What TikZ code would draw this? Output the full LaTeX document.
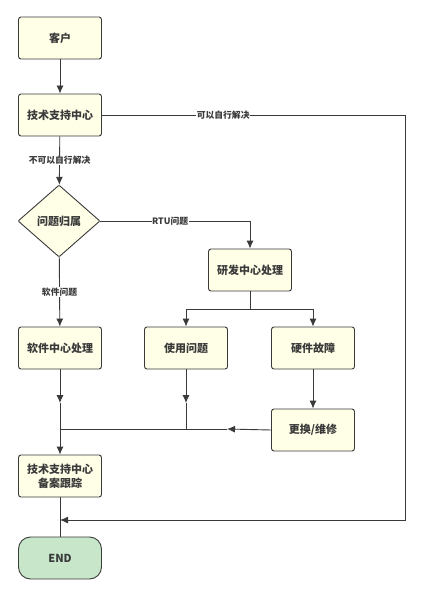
\documentclass[tikz,border=0pt]{standalone}
\usepackage{fontspec}
\usepackage{tikz}
\usetikzlibrary{shapes.geometric,arrows.meta}
\newfontfamily\cjk{Noto Sans CJK SC}
\definecolor{linec}{HTML}{3A3A3A}
\definecolor{boxfill}{HTML}{FFFFE8}
\definecolor{endfill}{HTML}{C8E6C9}
\tikzset{
    box/.style={draw=linec, fill=boxfill, line width=0.9pt, rounded corners=2.5pt,
        minimum width=83pt, minimum height=42pt, inner sep=1pt, align=center,
        text=linec, font=\cjk\bfseries\fontsize{11}{14}\selectfont},
    lbl/.style={fill=white, inner sep=0.5pt, text=linec, font=\cjk\bfseries\fontsize{8.8}{10}\selectfont},
    conn/.style={draw=linec, line width=0.9pt},
    arr/.style={conn, -{Latex[length=8pt,width=7pt]}}
}
\begin{document}
\begin{tikzpicture}[x=1pt,y=-1pt]
    \useasboundingbox[fill=white] (0,0) rectangle (423,596);
    \node[box] (kehu) at (60,38) {客户};
    \node[box] (jishu) at (60,115) {技术支持中心};
    \node[box, diamond, aspect=1.14, minimum width=82pt, minimum height=72pt, inner sep=0pt, rounded corners=1pt] (guishu) at (59,221) {问题归属};
    \node[box] (yanfa) at (250,270) {研发中心处理};
    \node[box] (ruanjian) at (60,348) {软件中心处理};
    \node[box] (shiyong) at (186,348) {使用问题};
    \node[box] (yingjian) at (313,348) {硬件故障};
    \node[box] (genghuan) at (313,430) {更换/维修};
    \node[box] (beian) at (60,476) {技术支持中心\\备案跟踪};
    \node[box, fill=endfill, rounded corners=12pt] (end) at (60,558) {END};
    \coordinate (rt) at (405,115);
    \coordinate (back) at (60,520);
    \coordinate (fork) at (250,309);
    \coordinate (merge) at (60,429);
    \coordinate (rjmid) at (60,403);
    \coordinate (symid) at (186,403);
    \coordinate (symerge) at (186,429);
    \coordinate (ghmid) at (227,429);
    % main column
    \draw[arr] (kehu) -- (jishu);
    \draw[arr] (jishu) -- node[lbl]{不可以自行解决} (guishu);
    \draw[arr] (guishu) -- node[lbl]{软件问题} (ruanjian);
    \draw[arr] (guishu.east) -| node[lbl, pos=0.233]{RTU问题} (yanfa.north);
    \draw[arr] (jishu.east) -- node[lbl, pos=0.4]{可以自行解决} (rt) |- (back);
    % rtu branch
    \draw[arr] (yanfa.south) -- (fork) -| (shiyong.north);
    \draw[arr] (fork) -| (yingjian.north);
    \draw[arr] (yingjian) -- (genghuan);
    % merging
    \draw[arr] (ruanjian.south) -- (rjmid);
    \draw[conn] (rjmid) -- (merge);
    \draw[arr] (shiyong.south) -- (symid);
    \draw[conn] (symid) -- (symerge);
    \draw[arr] (genghuan.west) -- (ghmid);
    \draw[conn] (ghmid) -- (merge);
    \draw[arr] (merge) -- (beian);
    \draw[conn] (beian) -- (end);
\end{tikzpicture}
\end{document}
